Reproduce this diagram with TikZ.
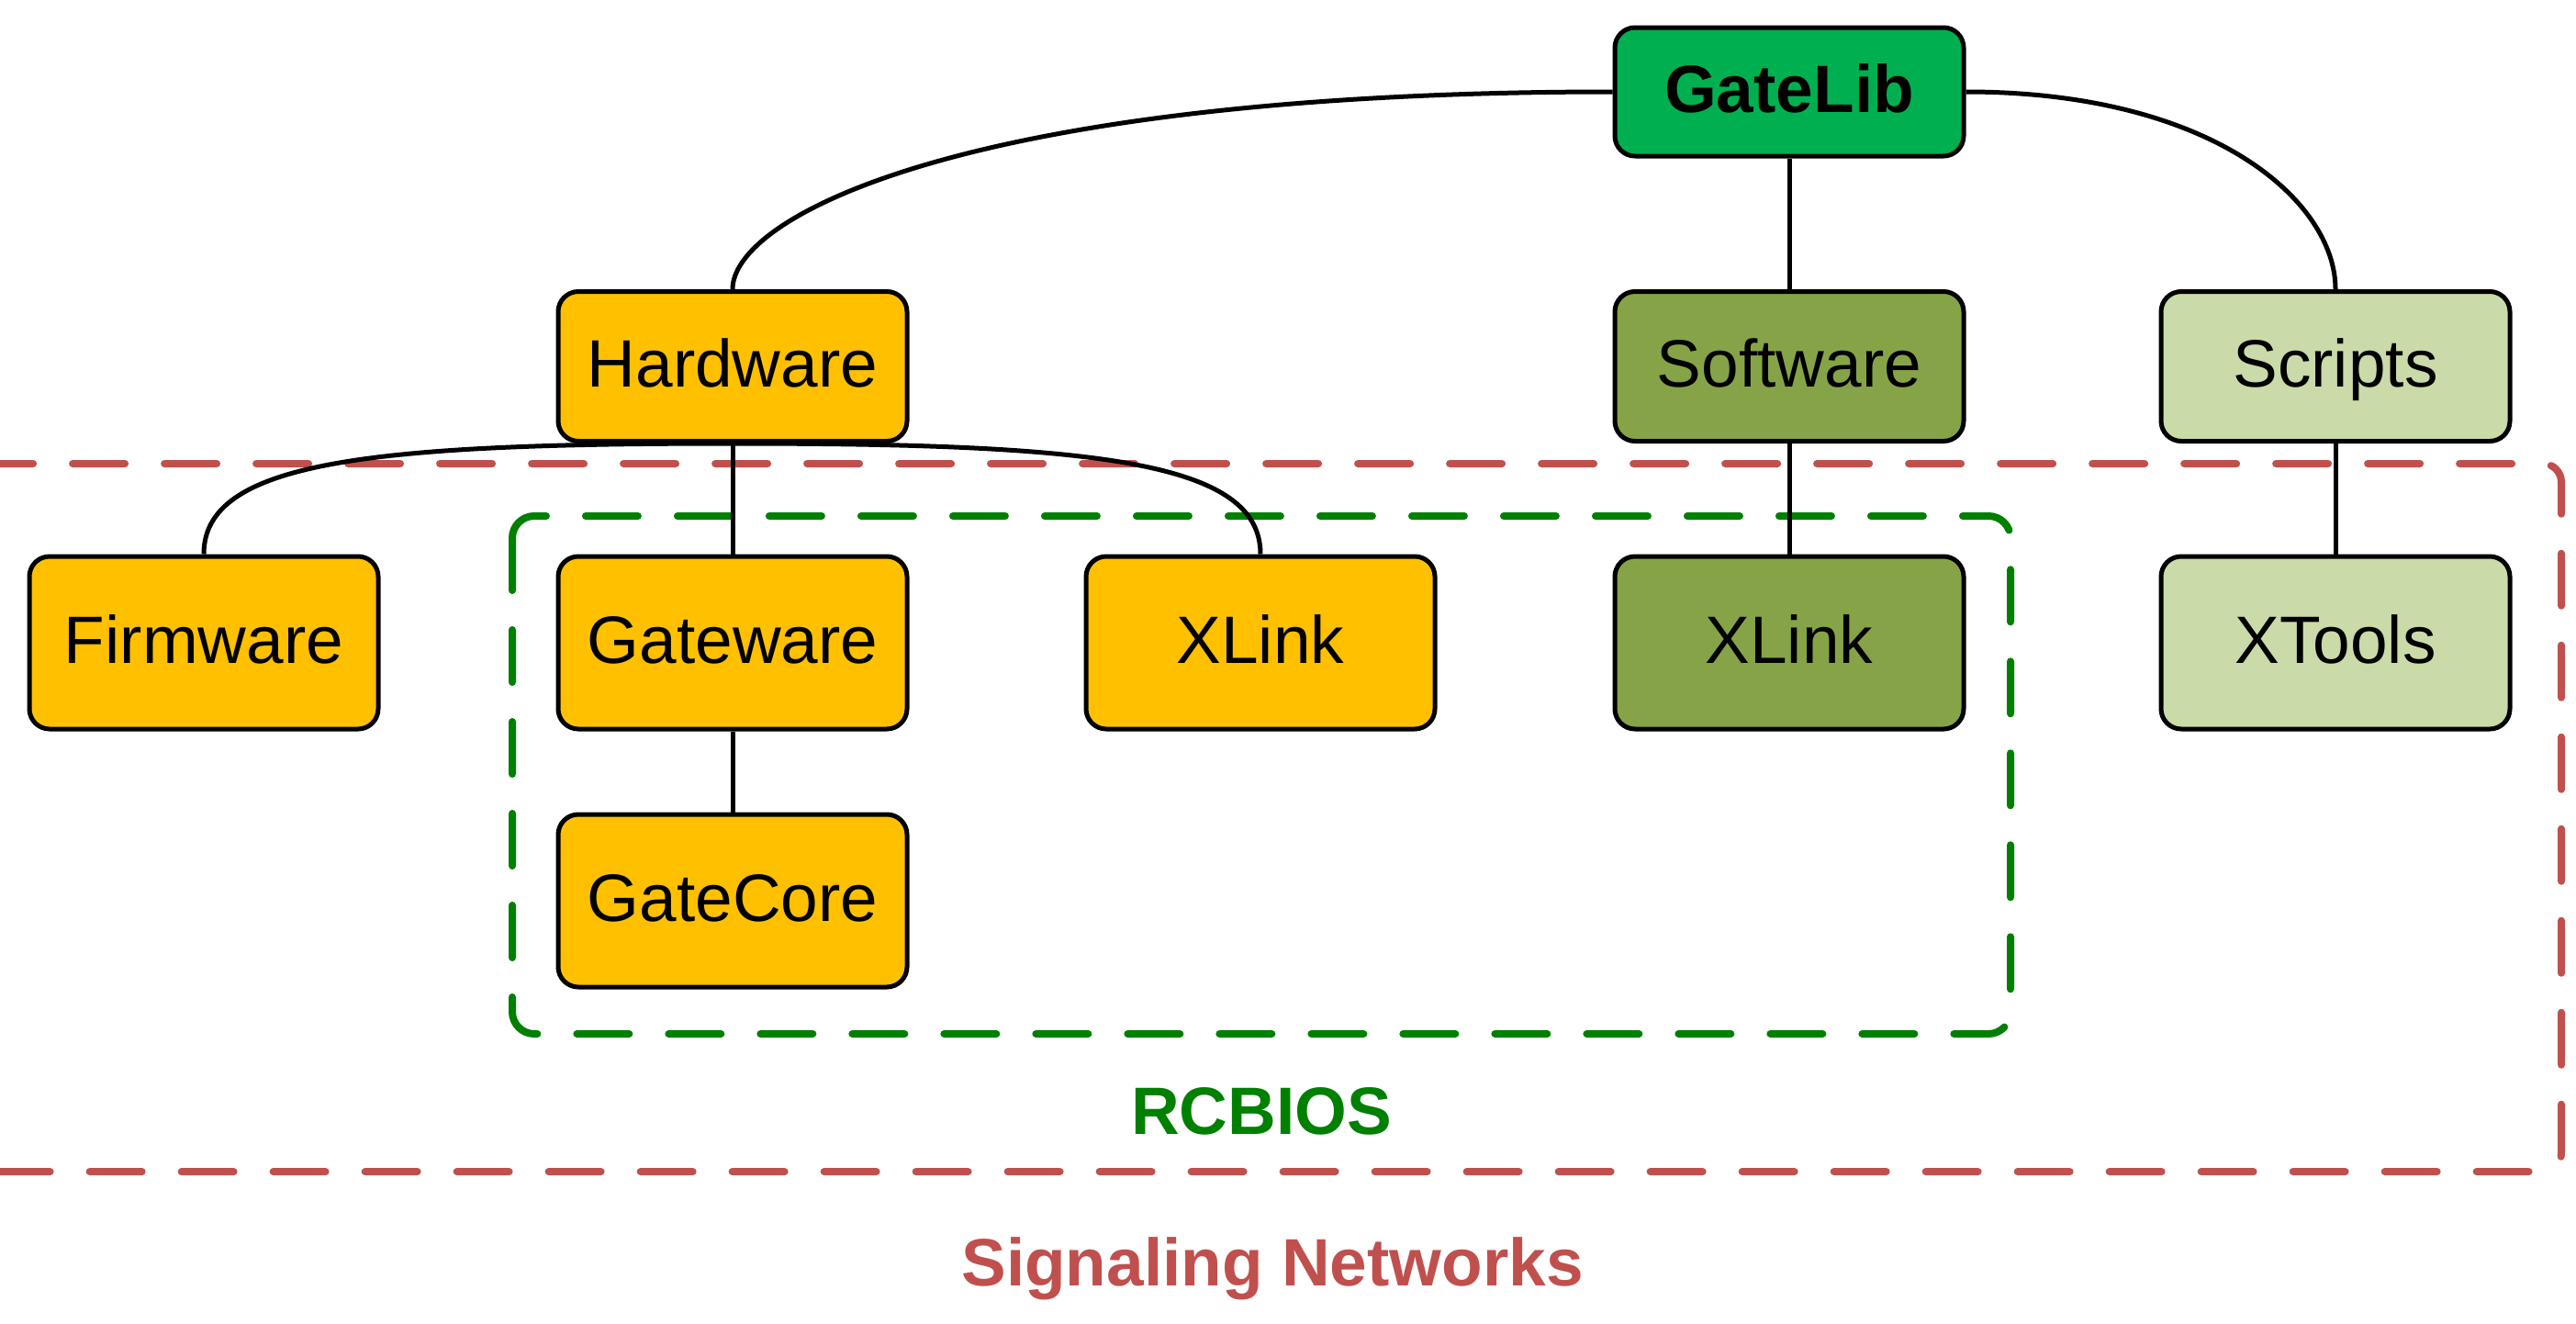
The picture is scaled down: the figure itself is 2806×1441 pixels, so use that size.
\documentclass[tikz,border=0pt]{standalone}
\usepackage{fontspec}
\setmainfont{Liberation Sans}
\definecolor{gatelibgreen}{HTML}{00B050}
\definecolor{hworange}{HTML}{FFC000}
\definecolor{swolive}{HTML}{86A447}
\definecolor{scriptlight}{HTML}{CADAA9}
\definecolor{netred}{HTML}{C0504D}
\definecolor{biosgreen}{HTML}{008000}
\begin{document}
\begin{tikzpicture}[x=0.5pt,y=-0.5pt,
  box/.style={draw=black, line width=2.5pt, rounded corners=11pt, minimum width=190pt,
    inner sep=0pt, font=\fontsize{36.5}{44}\selectfont, text height=26pt, text depth=4pt},
  rowtop/.style={box, minimum height=81.5pt},
  rowlow/.style={box, minimum height=94pt},
  link/.style={draw=black, line width=2.5pt},
  groupline/.style={line width=4pt, line cap=round, dash pattern=on 28.5pt off 21.5pt},
  grouplabel/.style={font={\fontsize{36.5}{44}\selectfont\bfseries}, inner sep=0pt,
    text height=26pt, text depth=0pt}
]
\useasboundingbox (0,0) rectangle (2806,1441);
\begin{scope}
  \clip (0,0) rectangle (2806,1441);
  \draw[groupline, draw=netred, rounded corners=10pt] (-60,505) rectangle (2790,1276);
\end{scope}
\draw[groupline, draw=biosgreen, rounded corners=12pt] (558,562) rectangle (2190,1126);

\node[box, fill=gatelibgreen, minimum height=70pt, font={\fontsize{36.5}{44}\selectfont\bfseries}] (gatelib) at (1949,100) {GateLib};
\node[rowtop, fill=hworange] (hw) at (798,399) {Hardware};
\node[rowtop, fill=swolive] (sw) at (1949,399) {Software};
\node[rowtop, fill=scriptlight] (scripts) at (2544,399) {Scripts};
\node[rowlow, fill=hworange] (fw) at (222,700) {Firmware};
\node[rowlow, fill=hworange] (gw) at (798,700) {Gateware};
\node[rowlow, fill=hworange] (xlinka) at (1373,700) {XLink};
\node[rowlow, fill=swolive] (xlinkb) at (1949,700) {XLink};
\node[rowlow, fill=scriptlight] (xtools) at (2544,700) {XTools};
\node[rowlow, fill=hworange] (gc) at (798,981) {GateCore};

\draw[link] (gatelib.west) .. controls +(-700,0) and +(0,-80) .. (hw.north);
\draw[link] (gatelib.east) .. controls +(270,0) and +(0,-95) .. (scripts.north);
\draw[link] (hw.south) .. controls +(-400,0) and +(0,-100) .. (fw.north);
\draw[link] (hw.south) .. controls +(400,0) and +(0,-100) .. (xlinka.north);
\draw[link] (gatelib) -- (sw);
\draw[link] (sw) -- (xlinkb);
\draw[link] (scripts) -- (xtools);
\draw[link] (hw) -- (gw);
\draw[link] (gw) -- (gc);

\node[grouplabel, text=biosgreen] (rcbios) at (1374,1209) {RCBIOS};
\node[grouplabel, text=netred] (signet) at (1386,1374) {Signaling Networks};
\end{tikzpicture}
\end{document}
